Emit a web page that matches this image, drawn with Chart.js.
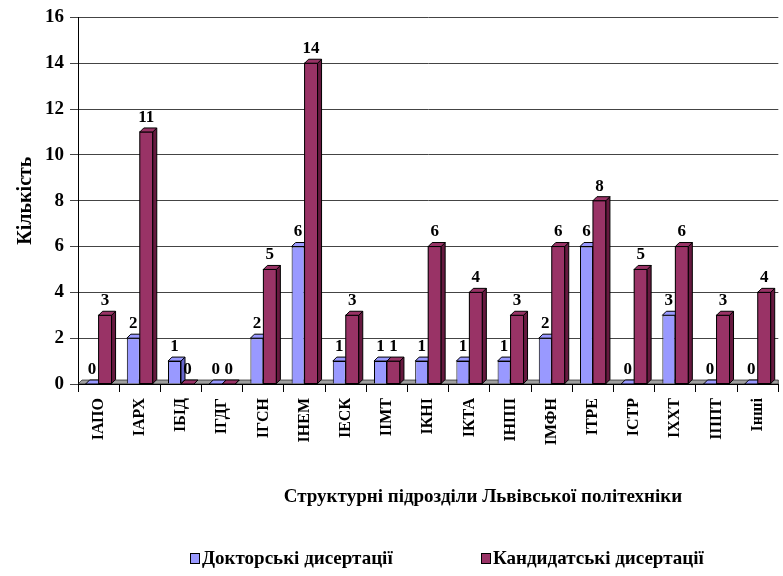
<!DOCTYPE html>
<html>
<head>
<meta charset="utf-8">
<script src="https://cdn.jsdelivr.net/npm/chart.js@4/dist/chart.umd.min.js"></script>
<style>
  body { margin: 0; background: #fff; }
  #wrap { position: relative; width: 783px; height: 576px; font-family: "Liberation Serif", "Times New Roman", serif; }
  #xTitle { position: absolute; top: 485px; left: 233px; width: 500px; text-align: center; font-weight: bold; font-size: 19px; color: #000; }
  .leg { position: absolute; top: 547px; font-weight: bold; font-size: 19px; color: #000; white-space: nowrap; }
  .leg span { display: inline-block; width: 8px; height: 9px; border: 1px solid #000; margin-right: 2px; vertical-align: 0px; }
</style>
</head>
<body>
<div id="wrap">
  <canvas id="grafico" width="783" height="576"></canvas>
  <div id="xTitle">Структурні підрозділи Львівської політехніки</div>
  <div class="leg" style="left:190px"><span style="background:#9999ff"></span>Докторські дисертації</div>
  <div class="leg" style="left:481px"><span style="background:#993366"></span>Кандидатські дисертації</div>
</div>
<script>
// Дані діаграми
const categories = ["ІАПО", "ІАРХ", "ІБІД", "ІГДГ", "ІГСН", "ІНЕМ", "ІЕСК", "ІІМТ", "ІКНІ",
    "ІКТА", "ІНПП", "ІМФН", "ІТРЕ", "ІСТР", "ІХХТ", "ІППТ", "Інші"];
const doctoral = [0, 2, 1, 0, 2, 6, 1, 1, 1, 1, 1, 2, 6, 0, 3, 0, 0];
const candidate = [3, 11, 0, 0, 5, 14, 3, 1, 6, 4, 3, 6, 8, 5, 6, 3, 4];
const yTicks = [0, 2, 4, 6, 8, 10, 12, 14, 16];

const DEPTH = 4;
const sideColors = ["#6666cc", "#66193f"];

// Імітація 3D: бічна та верхня грані стовпчиків, підлога
const efeito3d = {
    id: "efeito3d",
    beforeDatasetsDraw(chart) {
        const ctx = chart.ctx;
        const a = chart.chartArea;
        ctx.save();
        ctx.fillStyle = "#a0a0a0";
        ctx.strokeStyle = "#000";
        ctx.lineWidth = 0.6;
        ctx.beginPath();
        ctx.moveTo(a.left, a.bottom);
        ctx.lineTo(a.left + DEPTH, a.bottom - DEPTH);
        ctx.lineTo(a.right, a.bottom - DEPTH);
        ctx.lineTo(a.right, a.bottom);
        ctx.closePath();
        ctx.fill();
        ctx.stroke();
        ctx.restore();
    },
    afterDatasetsDraw(chart) {
        const ctx = chart.ctx;
        ctx.save();
        ctx.strokeStyle = "#000";
        ctx.lineWidth = 1;
        categories.forEach((c, i) => {
            [0, 1].forEach(ds => {
                const bar = chart.getDatasetMeta(ds).data[i];
                const p = bar.getProps(["x", "y", "width", "base"], true);
                const l = p.x - p.width / 2, r = p.x + p.width / 2;
                if (ds === 1) {
                    ctx.fillStyle = chart.data.datasets[1].backgroundColor;
                    ctx.fillRect(l, p.y, p.width, p.base - p.y);
                    ctx.strokeRect(l, p.y, p.width, p.base - p.y);
                }
                ctx.fillStyle = sideColors[ds];
                ctx.beginPath();
                ctx.moveTo(r, p.y);
                ctx.lineTo(r + DEPTH, p.y - DEPTH);
                ctx.lineTo(r + DEPTH, p.base - DEPTH);
                ctx.lineTo(r, p.base);
                ctx.closePath();
                ctx.fill();
                ctx.stroke();
                ctx.fillStyle = chart.data.datasets[ds].backgroundColor;
                ctx.beginPath();
                ctx.moveTo(l, p.y);
                ctx.lineTo(l + DEPTH, p.y - DEPTH);
                ctx.lineTo(r + DEPTH, p.y - DEPTH);
                ctx.lineTo(r, p.y);
                ctx.closePath();
                ctx.fill();
                ctx.stroke();
            });
        });
        // Підписи значень
        ctx.fillStyle = "#000";
        ctx.font = "bold 17px 'Liberation Serif'";
        ctx.textAlign = "center";
        ctx.textBaseline = "bottom";
        chart.data.datasets.forEach((d, ds) => {
            chart.getDatasetMeta(ds).data.forEach((bar, i) => {
                ctx.fillText(String(d.data[i]), bar.x, bar.y - 6);
            });
        });
        ctx.restore();
    }
};

new Chart(document.getElementById("grafico").getContext("2d"), {
    type: "bar",
    data: {
        labels: categories,
        datasets: [
            {
                label: "Докторські дисертації",
                data: doctoral,
                backgroundColor: "#9999ff",
                borderColor: "#000",
                borderWidth: 1
            },
            {
                label: "Кандидатські дисертації",
                data: candidate,
                backgroundColor: "#993366",
                borderColor: "#000",
                borderWidth: 1
            }
        ]
    },
    options: {
        responsive: false,
        animation: false,
        datasets: { bar: { categoryPercentage: 0.63, barPercentage: 1 } },
        layout: { padding: { top: 8, right: 2 } },
        plugins: { legend: { display: false }, tooltip: { enabled: false } },
        scales: {
            x: {
                afterFit(scale) { scale.height = 192; },
                grid: { offset: true, drawOnChartArea: false, color: "#000", tickLength: 8 },
                border: { color: "#000" },
                ticks: {
                    color: "#000",
                    minRotation: 90,
                    maxRotation: 90,
                    autoSkip: false,
                    padding: 6,
                    font: { family: "Liberation Serif", size: 16, weight: "bold" }
                }
            },
            y: {
                min: 0,
                max: 16,
                afterFit(scale) { scale.width = 78; },
                afterBuildTicks(scale) { scale.ticks = yTicks.map(v => ({ value: v })); },
                grid: { color: "#444", tickLength: 8 },
                border: { color: "#000" },
                ticks: {
                    color: "#000",
                    padding: 6,
                    font: { family: "Liberation Serif", size: 19, weight: "bold" }
                },
                title: {
                    display: true,
                    text: "Кількість",
                    color: "#000",
                    padding: { top: 14, bottom: 0 },
                    font: { family: "Liberation Serif", size: 20, weight: "bold" }
                }
            }
        }
    },
    plugins: [efeito3d]
});
</script>
</body>
</html>
